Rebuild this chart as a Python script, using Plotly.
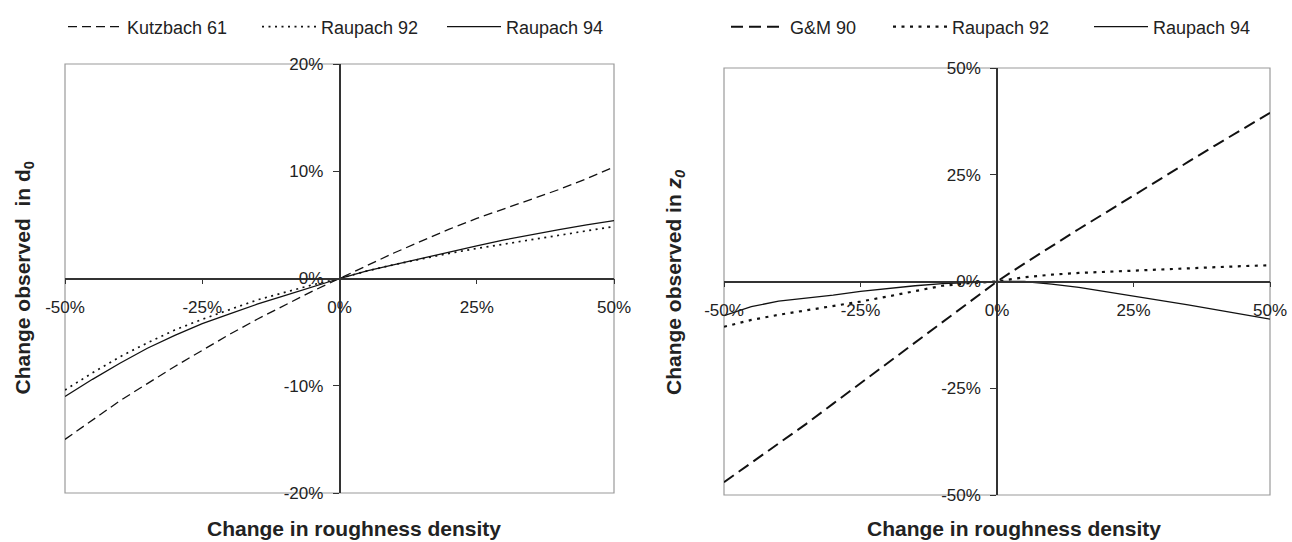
import plotly.graph_objects as go

# ---------------- data ----------------
x_pct = [-50, -45, -40, -35, -30, -25, -20, -15, -10, -5, 0, 5, 10, 15, 20, 25, 30, 35, 40, 45, 50]

# Left panel: change observed in d0
kutzbach61 = [-15.0, -13.2, -11.4, -9.8, -8.2, -6.7, -5.2, -3.8, -2.5, -1.2, 0.0,
              1.2, 2.4, 3.5, 4.6, 5.6, 6.5, 7.4, 8.3, 9.3, 10.4]
raupach92_d = [-10.4, -8.8, -7.3, -6.0, -4.8, -3.8, -2.9, -2.0, -1.3, -0.6, 0.0,
               0.7, 1.3, 1.85, 2.35, 2.8, 3.2, 3.6, 4.0, 4.45, 4.85]
raupach94_d = [-11.0, -9.4, -7.9, -6.5, -5.3, -4.2, -3.3, -2.4, -1.6, -0.8, 0.0,
               0.7, 1.3, 1.9, 2.5, 3.05, 3.6, 4.1, 4.55, 5.0, 5.4]

# Right panel: change observed in z0
gm90 = [-47.0, -42.5, -38.0, -33.4, -28.6, -23.8, -19.0, -14.2, -9.4, -4.7, 0.0,
        4.2, 8.3, 12.3, 16.2, 20.2, 24.1, 28.0, 31.9, 35.7, 39.5]
raupach92_z = [-10.6, -9.0, -7.8, -6.8, -5.8, -4.7, -3.5, -2.2, -1.0, -0.4, 0.0,
               1.0, 1.6, 2.0, 2.3, 2.6, 2.85, 3.1, 3.35, 3.6, 3.8]
raupach94_z = [-8.0, -5.9, -4.6, -3.9, -3.2, -2.3, -1.6, -1.0, -0.5, -0.2, 0.0,
               0.0, -0.6, -1.4, -2.4, -3.5, -4.5, -5.5, -6.6, -7.7, -8.8]

x_ticks = [-50, -25, 0, 25, 50]
x_ticktext = ["-50%", "-25%", "0%", "25%", "50%"]
y_ticks_left = [-20, -10, 0, 10, 20]
y_ticktext_left = ["-20%", "-10%", "0%", "10%", "20%"]
y_ticks_right = [-50, -25, 0, 25, 50]
y_ticktext_right = ["-50%", "-25%", "0%", "25%", "50%"]

# ---------------- layout geometry ----------------
W, H = 1292, 542
def px(v): return v / W
def py(v): return 1 - v / H

L_xdom = [px(65), px(614)]
L_ydom = [py(493), py(64)]
R_xdom = [px(724), px(1270)]
R_ydom = [py(495), py(68)]

FONT = "Liberation Sans, Arial, sans-serif"
BLACK = "#111111"

fig = go.Figure()

def add(x, y, name, dash, width, xa, ya, legend):
    fig.add_trace(go.Scatter(
        x=x, y=y, name=name, mode="lines",
        line=dict(color=BLACK, width=width, dash=dash),
        xaxis=xa, yaxis=ya, legend=legend, showlegend=True,
    ))

add(x_pct, kutzbach61, "Kutzbach 61", "9px,5px", 1.3, "x", "y", "legend")
add(x_pct, raupach92_d, "Raupach 92", "2px,4.5px", 1.7, "x", "y", "legend2")
add(x_pct, raupach94_d, "Raupach 94", "solid", 1.3, "x", "y", "legend3")
add(x_pct, gm90, "G&M 90", "12px,6px", 2.0, "x2", "y2", "legend4")
add(x_pct, raupach92_z, "Raupach 92", "3px,5.5px", 2.2, "x2", "y2", "legend5")
add(x_pct, raupach94_z, "Raupach 94", "solid", 1.3, "x2", "y2", "legend6")

tickfont = dict(family=FONT, size=17, color="#222222")

def xax(domain, ydom):
    return dict(domain=domain, range=[-50, 50], anchor="free",
                position=(ydom[0] + ydom[1]) / 2,
                tickmode="array", tickvals=x_ticks, ticktext=x_ticktext,
                ticks="outside", ticklen=5,
                tickcolor="#333333", tickwidth=1.2,
                showline=True, linecolor="#333333", linewidth=1.5,
                showgrid=False, zeroline=False, tickfont=tickfont,
                ticklabelstandoff=8, fixedrange=True, automargin=False)

def yax(domain, xdom, rng, tv, tt):
    return dict(domain=domain, range=rng, anchor="free",
                position=(xdom[0] + xdom[1]) / 2,
                tickmode="array", tickvals=tv, ticktext=tt,
                ticks="outside", ticklen=6,
                tickcolor="#333333", tickwidth=1.2,
                showline=True, linecolor="#333333", linewidth=1.5,
                showgrid=False, zeroline=False, tickfont=tickfont,
                ticklabelstandoff=6, fixedrange=True, automargin=False)

legfont = dict(family=FONT, size=18, color="#222222")
leg_y = py(27)
def leg(xpos):
    return dict(x=xpos, y=leg_y, xref="container", yref="container",
                xanchor="left", yanchor="middle",
                orientation="h", font=legfont, itemwidth=54,
                bgcolor="rgba(0,0,0,0)", borderwidth=0)

fig.update_layout(
    width=W, height=H,
    margin=dict(l=0, r=0, t=0, b=0, autoexpand=False),
    paper_bgcolor="white", plot_bgcolor="white",
    font=dict(family=FONT, color="#222222"),
    xaxis=xax(L_xdom, L_ydom),
    yaxis=yax(L_ydom, L_xdom, [-20, 20], y_ticks_left, y_ticktext_left),
    xaxis2=xax(R_xdom, R_ydom),
    yaxis2=yax(R_ydom, R_xdom, [-50, 50], y_ticks_right, y_ticktext_right),
    legend=leg(px(63)),
    legend2=leg(px(257)),
    legend3=leg(px(442)),
    legend4=leg(px(726)),
    legend5=leg(px(888)),
    legend6=leg(px(1089)),
    showlegend=True,
)

# plot-area borders
for xr, yr in (("x domain", "y domain"), ("x2 domain", "y2 domain")):
    fig.add_shape(type="rect", xref=xr, yref=yr, x0=0, x1=1, y0=0, y1=1,
                  line=dict(color="#9a9a9a", width=1.2), layer="below")

titlefont = dict(family=FONT, size=21, color="#222222", weight="bold")
fig.add_annotation(text="Change observed  in d<sub>0</sub>", textangle=-90,
                   x=px(23), y=py(397), xref="paper", yref="paper",
                   xanchor="center", yanchor="bottom", showarrow=False, font=titlefont)
fig.add_annotation(text="Change observed in <i>z</i><sub><i>0</i></sub>", textangle=-90,
                   x=px(675), y=py(397), xref="paper", yref="paper",
                   xanchor="center", yanchor="bottom", showarrow=False, font=titlefont)
fig.add_annotation(text="Change in roughness density",
                   x=px(354), y=py(528), xref="paper", yref="paper",
                   xanchor="center", yanchor="middle", showarrow=False, font=titlefont)
fig.add_annotation(text="Change in roughness density",
                   x=px(1014), y=py(528), xref="paper", yref="paper",
                   xanchor="center", yanchor="middle", showarrow=False, font=titlefont)

fig.write_html("out.html")
